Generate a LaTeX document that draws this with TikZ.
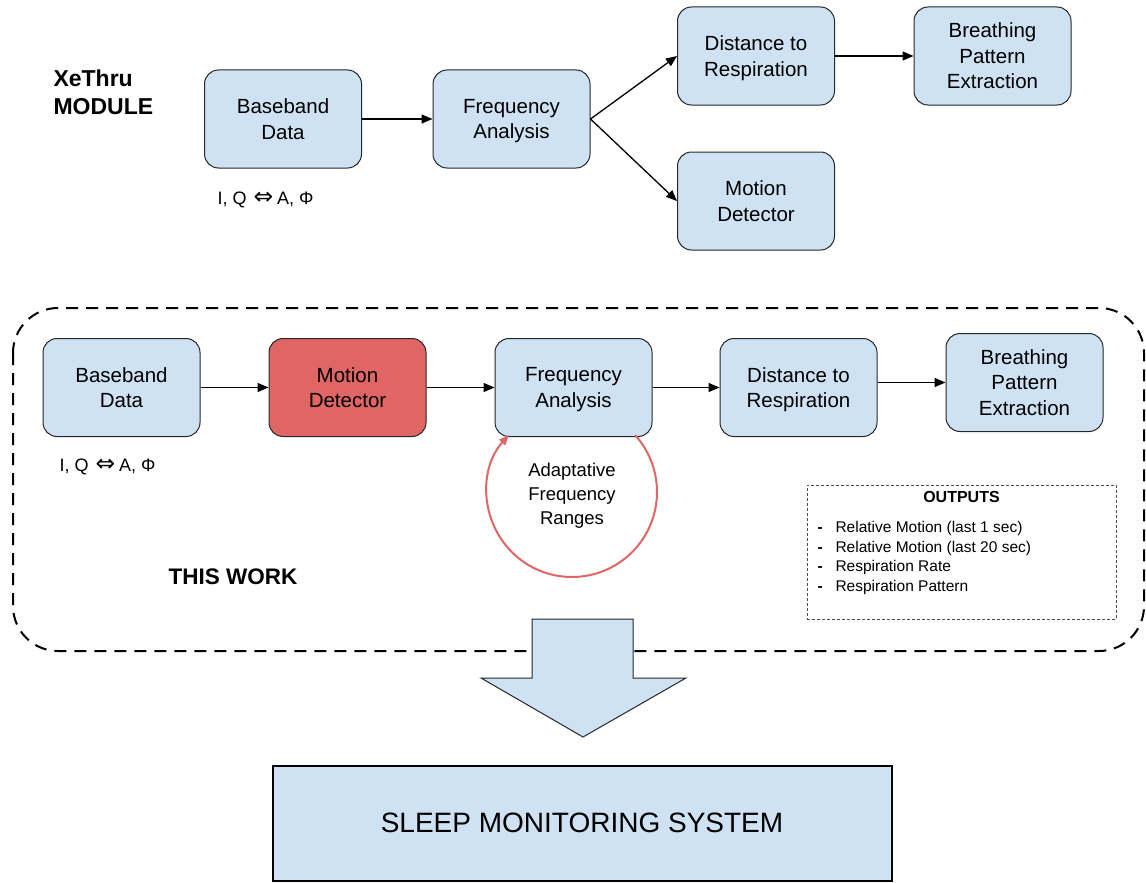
\documentclass[tikz,border=0pt]{standalone}
\usepackage{fontspec}
\setmainfont{Liberation Sans}
\newfontfamily\symfont[Scale=1.3]{DejaVu Sans}
\usetikzlibrary{arrows.meta}
\definecolor{boxblue}{HTML}{CFE2F3}
\definecolor{alertred}{HTML}{E06666}
\begin{document}
\begin{tikzpicture}[x=1pt,y=-1pt,
  stage/.style={draw=black!85, line width=1pt, fill=boxblue, rounded corners=14pt,
    minimum width=157pt, minimum height=98pt, align=center, text depth=0pt,
    font=\fontsize{20.5}{25.5}\selectfont},
  flow/.style={-{Triangle[length=11pt,width=9pt]}, line width=1.3pt, black},
  iqlabel/.style={font=\fontsize{18}{21}\selectfont, anchor=west}
]
\useasboundingbox (0,0) rectangle (1146,883);

% ---- XeThru module pipeline ----
\node[anchor=west, align=left, font=\bfseries\fontsize{23}{28}\selectfont] (xethru) at (50,92) {XeThru\\MODULE};
\node[stage] (bb1) at (283,119) {Baseband\\Data};
\node[stage] (fa1) at (511.5,119) {Frequency\\Analysis};
\node[stage] (dr1) at (756,56) {Distance to\\Respiration};
\node[stage] (bp1) at (992.5,56) {Breathing\\Pattern\\Extraction};
\node[stage] (md1) at (756,201) {Motion\\Detector};
\node[iqlabel] (iq1) at (214,200) {I, Q\hspace{7pt}{\symfont ⇔}\hspace{4pt}A, Φ};

\draw[flow] (bb1) -- (fa1);
\draw[flow] (fa1.east) -- (dr1.west);
\draw[flow] (fa1.east) -- (md1.west);
\draw[flow] (dr1) -- (bp1);

% ---- this work: dashed frame ----
\draw[line width=2pt, dash pattern=on 12pt off 8pt, rounded corners=45pt]
  (13,308) rectangle (1144,651);

\node[stage] (bb2) at (121.5,387.5) {Baseband\\Data};
\node[stage, fill=alertred] (md2) at (347.5,387.5) {Motion\\Detector};
\node[stage] (fa2) at (573.5,387.5) {Frequency\\Analysis};
\node[stage] (dr2) at (798.5,387.5) {Distance to\\Respiration};
\node[stage] (bp2) at (1024.5,382.5) {Breathing\\Pattern\\Extraction};
\node[iqlabel] (iq2) at (56,467) {I, Q\hspace{7pt}{\symfont ⇔}\hspace{4pt}A, Φ};

\draw[flow] (bb2) -- (md2);
\draw[flow] (md2) -- (fa2);
\draw[flow] (fa2) -- (dr2);
\draw[flow] (dr2.east |- bp2.west) -- (bp2.west);

% adaptive frequency loop
\coordinate (loopc) at (572,492);
\draw[alertred, line width=2pt, -{Triangle[length=10pt,width=8pt]}]
  ([shift={(-42:85)}]loopc) arc[start angle=-42, end angle=222, radius=85];
\node[align=center, text depth=0pt, font=\fontsize{18.5}{24}\selectfont] (adapt) at (572,494)
  {Adaptative\\Frequency\\Ranges};

\node[anchor=west, font=\bfseries\fontsize{22.5}{27}\selectfont] (thiswork) at (165,577) {THIS WORK};

% outputs list
\node[draw=black!70, line width=0.8pt, dash pattern=on 3pt off 2pt,
  minimum width=309pt, minimum height=134pt] (outputs) at (961.5,552) {};
\node[font=\bfseries\fontsize{16}{19}\selectfont] (outtitle) at (961.5,497) {OUTPUTS};
\node[anchor=west, align=left, font=\fontsize{15.5}{19.5}\selectfont] (outlist) at (814,558)
  {\makebox[18pt][l]{\textbf{-}}Relative Motion (last 1 sec)\\
   \makebox[18pt][l]{\textbf{-}}Relative Motion (last 20 sec)\\
   \makebox[18pt][l]{\textbf{-}}Respiration Rate\\
   \makebox[18pt][l]{\textbf{-}}Respiration Pattern};

% ---- hand-off to the sleep monitoring system ----
\draw[fill=boxblue, draw=black!85, line width=1pt]
  (532,619) -- (633,619) -- (633,678) -- (686,678) -- (583,737)
  -- (481,678) -- (532,678) -- cycle;
\node[draw=black, line width=2pt, fill=boxblue, minimum width=619pt, minimum height=115pt,
  font=\fontsize{28}{33}\selectfont] (sleep) at (582,823) {SLEEP MONITORING SYSTEM};
\end{tikzpicture}
\end{document}
